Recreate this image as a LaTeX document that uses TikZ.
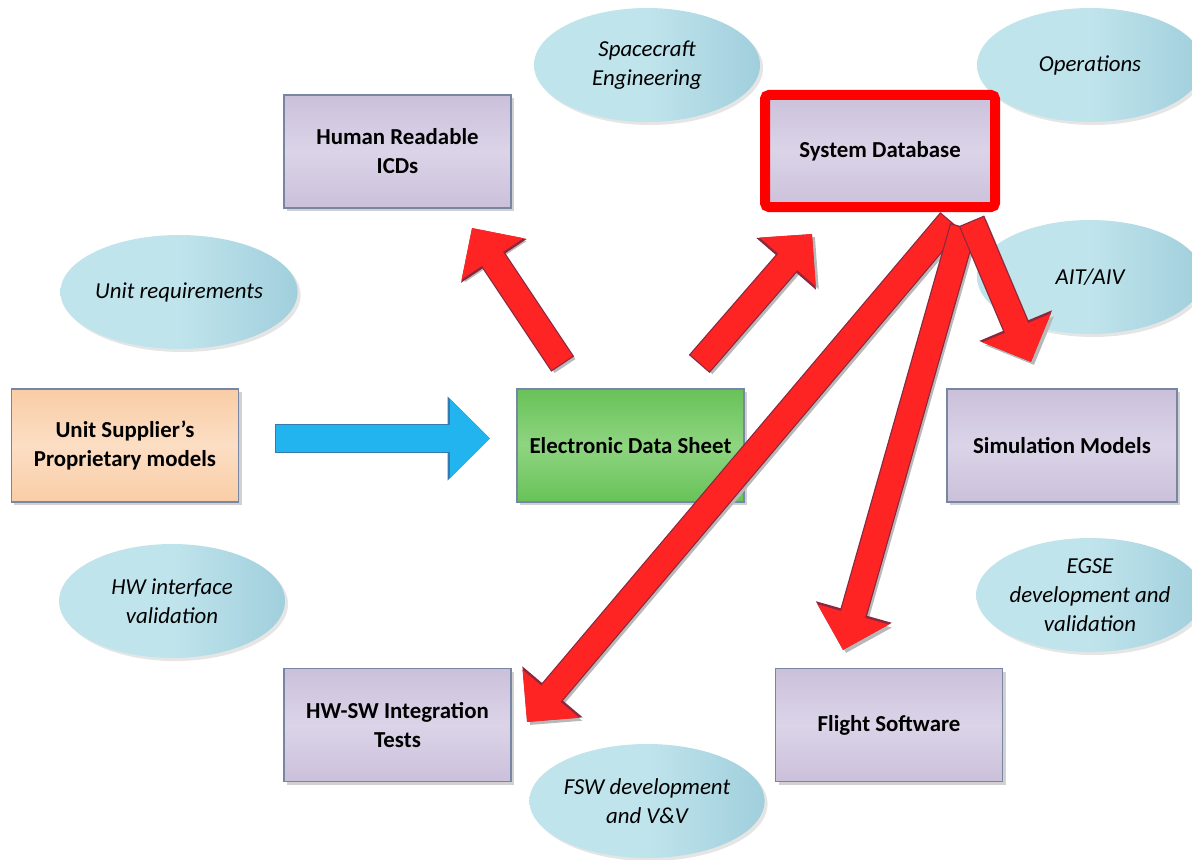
\documentclass[tikz,border=0pt]{standalone}
\usepackage{fontspec}
\setmainfont{Carlito}
\usetikzlibrary{arrows.meta, shadows, shapes.geometric}

\definecolor{lavtop}{RGB}{203,192,218}
\definecolor{lavmid}{RGB}{219,212,232}
\definecolor{lavedge}{RGB}{118,134,163}
\definecolor{peachtop}{RGB}{249,205,166}
\definecolor{peachmid}{RGB}{252,222,196}
\definecolor{greentop}{RGB}{104,194,88}
\definecolor{greenmid}{RGB}{142,213,128}
\definecolor{ellleft}{RGB}{192,228,236}
\definecolor{ellright}{RGB}{160,207,220}
\definecolor{arrowred}{RGB}{255,36,36}
\definecolor{arrowedge}{RGB}{140,40,62}
\definecolor{arrowblue}{RGB}{33,180,238}
\definecolor{blueedge}{RGB}{52,122,172}

\begin{document}
\begin{tikzpicture}[%
        x = 0.2mm, y = -0.2mm,
        softshadow/.style = {%
            drop shadow = {%
                shadow xshift = 0.6mm, shadow yshift = -0.6mm,
                fill = black!40, opacity = #1
            }
        },
        box/.style = {%
            rectangle, draw = lavedge, line width = 0.6pt,
            minimum width = 45.4mm, minimum height = 22.6mm,
            align = center, softshadow = 0.45,
            top color = lavtop, bottom color = lavtop, middle color = lavmid,
            font = \fontsize{13pt}{16.5pt}\selectfont\bfseries
        },
        bubble/.style = {%
            ellipse, inner sep = 0pt,
            minimum width = 45.2mm, minimum height = 22.8mm,
            align = center, softshadow = 0.25,
            left color = ellleft, right color = ellright, middle color = ellleft,
            font = \fontsize{13pt}{16.5pt}\selectfont\itshape
        },
        redshadow/.style = {%
            line width = 5mm, draw = black!28,
            -{Triangle[length = 7.4mm, width = 14.4mm]},
            transform canvas = {shift = {(0.6mm, -0.6mm)}}
        },
        rededge/.style = {%
            line width = 5.5mm, draw = arrowedge, shorten <= -0.25mm,
            -{Triangle[length = 7.9mm, width = 15.3mm]}
        },
        redarrow/.style = {%
            line width = 5mm, draw = arrowred,
            -{Triangle[length = 7.4mm, width = 14.4mm]}
        },
        bluearrow/.style = {%
            line width = 5.4mm, draw = arrowblue,
            -{Triangle[length = 8mm, width = 15.4mm]}
        }
    ]

        % Fix the page to the size of the picture.
        \useasboundingbox (0, 0) rectangle (1192, 860);

        % The bubbles around the diagram.
        \node[bubble] (spacecraft) at (647, 65) {Spacecraft\\Engineering};
        \node[bubble] (operations) at (1090, 65) {Operations};
        \node[bubble] (aitaiv) at (1090, 277) {AIT/AIV};
        \node[bubble] (unitreq) at (179, 292) {Unit requirements};
        \node[bubble] (hwiface) at (172, 601) {HW interface\\validation};
        \node[bubble] (egse) at (1090, 595) {EGSE\\development and\\validation};
        \node[bubble] (fswdev) at (647, 801) {FSW development\\and V\&V};

        % The boxes.
        \node[box] (icd) at (397.5, 151.5) {Human Readable\\ICDs};
        \node[box, draw = red, line width = 2mm, rounded corners = 0.8mm,
            minimum width = 46mm, minimum height = 22.4mm] (sysdb) at (880, 151) {System Database};
        \node[box, top color = peachtop, bottom color = peachtop, middle color = peachmid]
            (supplier) at (125, 445.5) {Unit Supplier’s\\Proprietary models};
        \node[box, top color = greentop, bottom color = greentop, middle color = greenmid]
            (eds) at (630.5, 445.5) {Electronic Data Sheet};
        \node[box, minimum width = 46mm] (sim) at (1062, 445.5) {Simulation Models};
        \node[box] (hwsw) at (397.5, 725) {HW-SW Integration\\Tests};
        \node[box] (fsw) at (889, 725) {Flight Software};

        % The ends of the big arrows.
        \coordinate (sup-out) at (276, 438.5);
        \coordinate (eds-in) at (490, 438.5);
        \coordinate (eds-icd) at (562, 363);
        \coordinate (icd-in) at (472, 228);
        \coordinate (eds-db) at (700, 363);
        \coordinate (db-in) at (812, 234);
        \coordinate (db-hwsw) at (950, 222);
        \coordinate (hwsw-in) at (527, 722);
        \coordinate (db-fsw) at (963, 228);
        \coordinate (fsw-in) at (843, 650);
        \coordinate (db-sim) at (972, 222);
        \coordinate (sim-in) at (1031, 362);

        % Blue arrow from the supplier models.
        \draw[line width = 5.9mm, draw = blueedge, shorten <= -0.25mm,
            -{Triangle[length = 8.5mm, width = 16.3mm]}] (sup-out) -- (eds-in);
        \draw[bluearrow] (sup-out) -- (eds-in);

        % Red arrows out of the data sheet and the database.
        \foreach \from/\to in {eds-icd/icd-in, eds-db/db-in, db-hwsw/hwsw-in, db-fsw/fsw-in, db-sim/sim-in}{%
            \draw[redshadow] (\from) -- (\to);
            \draw[rededge] (\from) -- (\to);
            \draw[redarrow] (\from) -- (\to);
        }
    \end{tikzpicture}
\end{document}
